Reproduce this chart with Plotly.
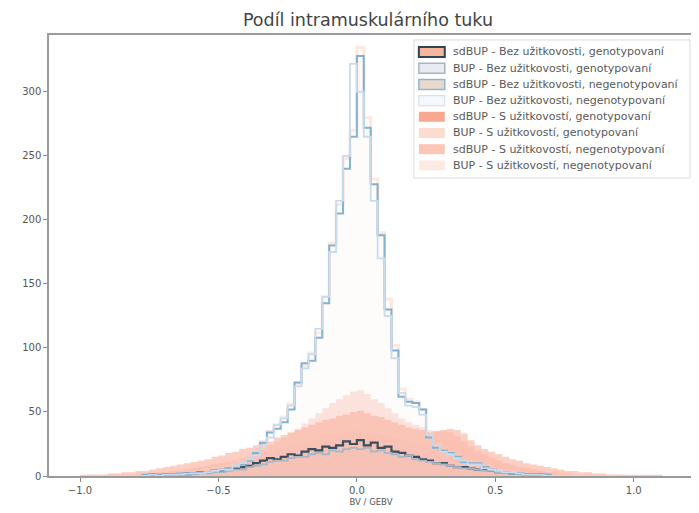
import plotly.graph_objects as go

# Histogram bins: left edge -1.0, width 0.025, 84 bins (-1.0 .. 1.1)
bin_start = -1.0
bin_width = 0.025

title_text = "Podíl intramuskulárního tuku"
x_label = "BV / GEBV"

names = [
    "sdBUP - Bez užitkovosti, genotypovaní",
    "BUP - Bez užitkovosti, genotypovaní",
    "sdBUP - Bez užitkovosti, negenotypovaní",
    "BUP - Bez užitkovosti, negenotypovaní",
    "sdBUP - S užitkovostí, genotypovaní",
    "BUP - S užitkovostí, genotypovaní",
    "sdBUP - S užitkovostí, negenotypovaní",
    "BUP - S užitkovostí, negenotypovaní",
]

sdbup_bez_gen = [0, 0, 0, 0, 0, 0, 0, 0, 0, 0,
                 1, 0, 1, 1, 1, 2, 2, 3, 3, 4,
                 4, 5, 6, 7, 8, 10, 12, 14, 13, 15,
                 17, 16, 19, 21, 20, 23, 22, 24, 27, 25,
                 28, 24, 26, 22, 23, 19, 18, 16, 15, 13,
                 12, 10, 10, 8, 7, 7, 6, 5, 5, 4,
                 3, 3, 2, 2, 1, 1, 1, 0, 0, 0,
                 0, 0, 0, 0, 0, 0, 0, 0, 0, 0,
                 0, 0, 0, 0]

bup_bez_gen = [0, 0, 0, 0, 0, 0, 0, 0, 0, 0,
               0, 1, 0, 1, 1, 1, 2, 2, 2, 3,
               3, 4, 5, 5, 7, 8, 9, 11, 12, 12,
               14, 15, 15, 17, 18, 17, 20, 19, 21, 22,
               21, 22, 19, 20, 18, 17, 15, 16, 13, 12,
               11, 10, 9, 8, 7, 6, 6, 5, 4, 4,
               3, 2, 2, 2, 1, 1, 0, 1, 0, 0,
               0, 0, 0, 0, 0, 0, 0, 0, 0, 0,
               0, 0, 0, 0]

sdbup_bez_neg = [0, 0, 0, 0, 0, 0, 0, 0, 0, 1,
                 0, 1, 1, 1, 2, 1, 2, 3, 3, 4,
                 5, 6, 7, 9, 12, 18, 26, 34, 37, 42,
                 52, 73, 88, 90, 108, 135, 180, 205, 240, 265,
                 328, 272, 228, 188, 130, 98, 62, 58, 57, 52,
                 30, 22, 20, 18, 15, 11, 10, 10, 7, 5,
                 4, 3, 2, 2, 1, 1, 0, 1, 0, 0,
                 0, 0, 0, 0, 0, 0, 0, 0, 0, 0,
                 0, 0, 0, 0]

bup_bez_neg = [0, 0, 0, 0, 0, 0, 0, 0, 0, 0,
               1, 0, 1, 1, 1, 2, 2, 2, 3, 4,
               5, 5, 8, 10, 13, 16, 24, 30, 40, 45,
               55, 70, 84, 95, 115, 140, 175, 215, 250, 322,
               300, 265, 215, 170, 125, 92, 65, 55, 54, 48,
               32, 24, 19, 17, 14, 12, 9, 9, 6, 5,
               4, 3, 3, 2, 1, 1, 1, 0, 0, 0,
               0, 0, 0, 0, 0, 0, 0, 0, 0, 0,
               0, 0, 0, 0]

sdbup_s_gen = [0, 1, 1, 1, 2, 2, 3, 3, 4, 4,
               5, 6, 7, 8, 9, 10, 11, 12, 13, 15,
               16, 18, 19, 21, 22, 24, 26, 27, 30, 32,
               34, 36, 38, 40, 42, 44, 45, 47, 48, 50,
               51, 49, 47, 46, 44, 42, 40, 38, 37, 36,
               34, 35, 36, 37, 36, 33, 28, 24, 21, 19,
               17, 15, 13, 12, 10, 9, 8, 7, 6, 5,
               4, 4, 3, 3, 2, 2, 1, 1, 1, 0,
               0, 0, 0, 0]

bup_s_gen = [0, 1, 1, 1, 1, 2, 2, 2, 3, 3,
             4, 4, 5, 5, 6, 7, 8, 8, 9, 10,
             11, 12, 13, 14, 15, 17, 18, 19, 21, 22,
             24, 25, 26, 28, 29, 31, 32, 33, 34, 35,
             36, 34, 33, 33, 31, 30, 29, 28, 27, 26,
             27, 28, 29, 28, 26, 22, 19, 17, 15, 13,
             12, 10, 9, 8, 7, 6, 5, 5, 4, 3,
             3, 2, 2, 2, 1, 1, 1, 1, 0, 0,
             0, 0, 0, 0]

sdbup_s_neg = [0, 0, 0, 0, 1, 1, 1, 1, 2, 2,
               2, 3, 3, 4, 4, 5, 6, 7, 8, 9,
               10, 11, 12, 14, 16, 18, 21, 24, 27, 30,
               34, 37, 41, 45, 49, 53, 57, 60, 63, 66,
               67, 64, 60, 57, 53, 49, 45, 42, 40, 38,
               36, 35, 35, 34, 31, 27, 23, 20, 17, 14,
               12, 10, 8, 7, 6, 5, 4, 3, 3, 2,
               2, 1, 1, 1, 1, 0, 0, 0, 0, 0,
               0, 0, 0, 0]

bup_s_neg = [0, 0, 0, 0, 0, 0, 0, 0, 1, 1,
             1, 1, 2, 2, 2, 3, 3, 4, 5, 6,
             7, 8, 10, 12, 15, 20, 27, 35, 40, 46,
             56, 72, 86, 96, 112, 140, 182, 212, 248, 270,
             335, 280, 232, 190, 138, 102, 68, 60, 58, 52,
             33, 25, 21, 19, 16, 12, 11, 10, 8, 6,
             5, 4, 3, 2, 2, 1, 1, 1, 0, 0,
             0, 0, 0, 0, 0, 0, 0, 0, 0, 0,
             0, 0, 0, 0]

series = [sdbup_bez_gen, bup_bez_gen, sdbup_bez_neg, bup_bez_neg,
          sdbup_s_gen, bup_s_gen, sdbup_s_neg, bup_s_neg]

# (line colour, line width, fill colour)
styles = [
    ("#2b4557", 2.2, "rgba(245,160,130,0.10)"),
    ("#a3b5c6", 1.8, "rgba(225,230,238,0.10)"),
    ("#80b1d3", 2.0, "rgba(238,215,200,0.04)"),
    ("#c9dced", 1.8, "rgba(240,245,250,0.03)"),
    ("rgba(247,140,110,0.0)", 0, "rgba(247,140,110,0.42)"),
    ("rgba(252,200,185,0.0)", 0, "rgba(252,200,185,0.30)"),
    ("rgba(250,170,150,0.0)", 0, "rgba(250,165,145,0.30)"),
    ("rgba(252,205,190,0.45)", 3, "rgba(253,225,215,0.06)"),
]

# legend swatches: (edge colour, edge width, fill colour)
swatches = [
    ("#2b4557", 2, "#f6b69d"),
    ("#a3b5c6", 1.5, "#e8ecf1"),
    ("#8db7d4", 1.5, "#ead8cc"),
    ("#d3e3f0", 1.2, "#f6f8fb"),
    ("#f8a88e", 0, "#f8a88e"),
    ("#fcdccf", 0, "#fcdccf"),
    ("#fbc6b5", 0, "#fbc6b5"),
    ("#fdebe3", 0, "#fdebe3"),
]

n_bins = len(sdbup_bez_gen)
edges = [bin_start + bin_width * i for i in range(n_bins + 1)]

fig = go.Figure()

# draw filled (S užitkovostí) groups first, outlined groups on top
draw_order = [4, 5, 6, 7, 0, 1, 2, 3]
for k in draw_order:
    counts = series[k]
    line_color, line_width, fill_color = styles[k]
    fig.add_trace(go.Scatter(
        x=edges,
        y=list(counts) + [counts[-1]],
        mode='lines',
        name=names[k],
        line=dict(color=line_color, width=line_width, shape='hv'),
        fill='tozeroy',
        fillcolor=fill_color,
        showlegend=False,
        cliponaxis=False
    ))

# legend box drawn in axes-fraction coordinates (matplotlib-like spacing)
plot_w, plot_h = 646.0, 441.0
shapes = [dict(type='rect', xref='paper', yref='paper',
               x0=0.5666, x1=0.9954, y0=0.6757, y1=0.9887,
               line=dict(color='#d8dde3', width=1),
               fillcolor='rgba(255,255,255,0.85)', layer='above')]
annotations = []
for k, name in enumerate(names):
    yc = 0.9887 - (12 + 16.2 * k) / plot_h
    edge, ew, fc = swatches[k]
    shapes.append(dict(type='rect', xref='paper', yref='paper',
                       x0=(420 - 49) / plot_w, x1=(446 - 49) / plot_w,
                       y0=yc - 5 / plot_h, y1=yc + 5 / plot_h,
                       line=dict(color=edge, width=ew), fillcolor=fc, layer='above'))
    annotations.append(dict(xref='paper', yref='paper', x=(452 - 49) / plot_w, y=yc,
                            xanchor='left', yanchor='middle', showarrow=False,
                            text=name, font=dict(size=11, color='#5a5a5a')))

fig.update_layout(
    width=699,
    height=513,
    title=dict(text=title_text, x=0.515, xanchor='center', y=0.977, yanchor='middle',
               font=dict(family='DejaVu Sans', size=17.5, color='#444444')),
    margin=dict(l=41, r=12, t=27, b=45),
    paper_bgcolor='white',
    plot_bgcolor='white',
    font=dict(family='DejaVu Sans', size=10, color='#555555'),
    showlegend=False,
    shapes=shapes,
    annotations=annotations,
    xaxis=dict(
        range=[-1.112, 1.214],
        tickvals=[-1.0, -0.5, 0.0, 0.5, 1.0],
        ticktext=['−1.0', '−0.5', '0.0', '0.5', '1.0'],
        ticks='outside', ticklen=4, tickcolor='#888888',
        showgrid=False, zeroline=False,
        showline=True, linecolor='#9a9a9a', linewidth=1.5, mirror=True,
        title=dict(text=x_label, font=dict(size=8.5, color='#555555'), standoff=4)
    ),
    yaxis=dict(
        range=[0, 344.5],
        tickvals=[0, 50, 100, 150, 200, 250, 300],
        ticks='outside', ticklen=4, tickcolor='#888888',
        showgrid=False, zeroline=False,
        showline=True, linecolor='#9a9a9a', linewidth=1.5, mirror=True
    ),
    hovermode='closest'
)

fig.write_html("out.html")
